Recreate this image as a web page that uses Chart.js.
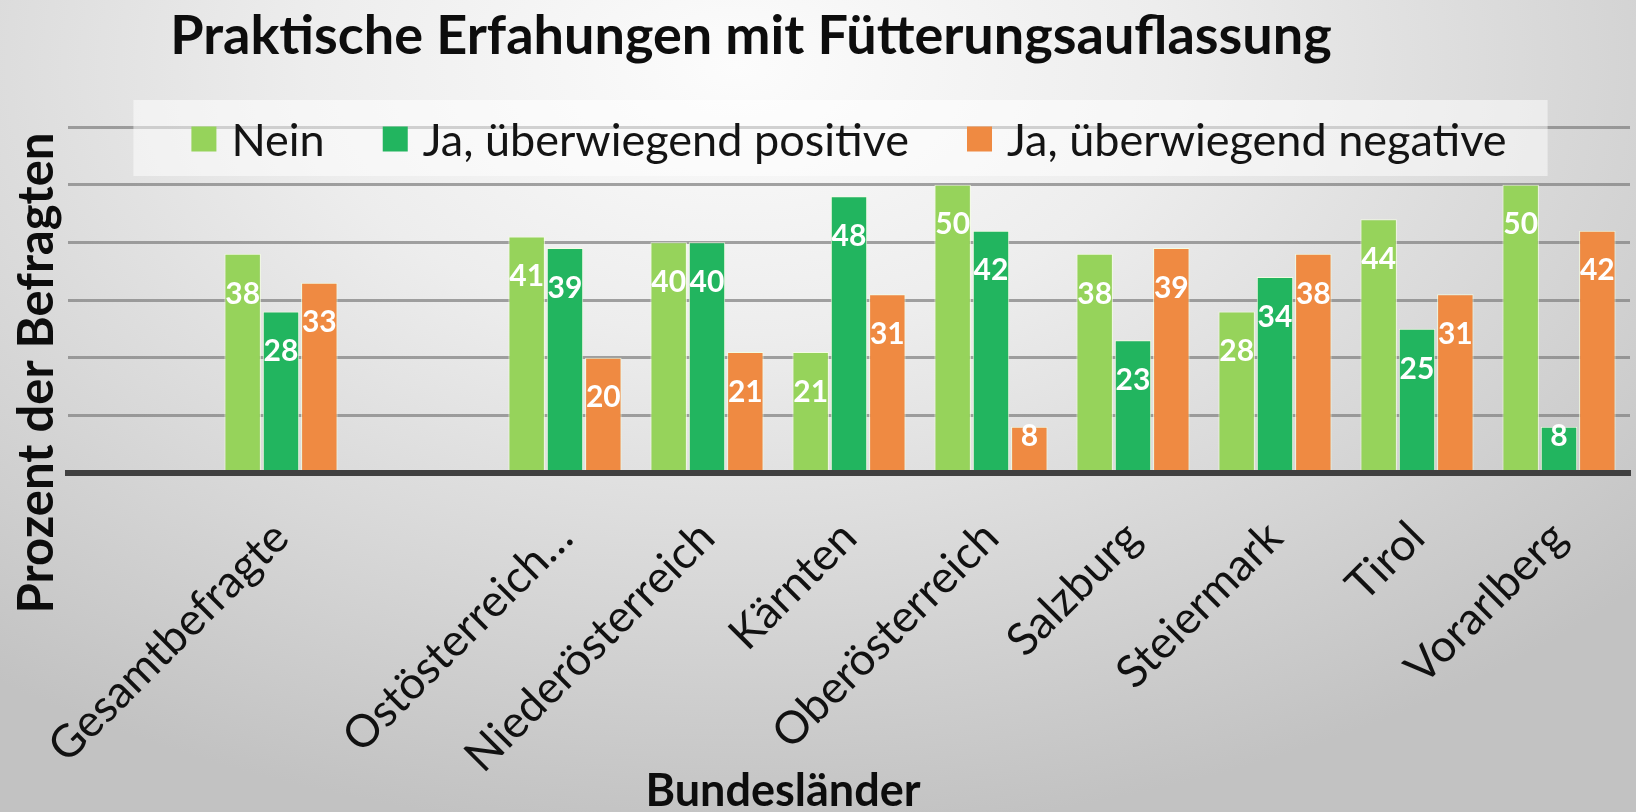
<!DOCTYPE html>
<html lang="de">
<head>
<meta charset="utf-8">
<title>Praktische Erfahungen mit Fütterungsauflassung</title>
<script src="https://cdn.jsdelivr.net/npm/chart.js@4.4.1/dist/chart.umd.min.js"></script>
<style>
html, body { margin: 0; padding: 0; }
body {
  width: 1636px;
  height: 812px;
  overflow: hidden;
  background: radial-gradient(ellipse 75% 95% at 45% 8%, #fcfcfc 0%, #ededed 35%, #d6d6d6 70%, #c2c2c2 100%);
}
#wrap { position: relative; width: 1636px; height: 812px; }
</style>
</head>
<body>
<div id="wrap"><canvas id="chart-laender"></canvas></div>
<script>
// Kategorien (leere Einträge = Lücken wie im Original)
const categories = ['', 'Gesamtbefragte', '', 'Ostösterreich…', 'Niederösterreich', 'Kärnten',
  'Oberösterreich', 'Salzburg', 'Steiermark', 'Tirol', 'Vorarlberg'];
const nein      = [null, 38, null, 41, 40, 21, 50, 38, 28, 44, 50];
const jaPositiv = [null, 28, null, 39, 40, 48, 42, 23, 34, 25, 8];
const jaNegativ = [null, 33, null, 20, 21, 31, 8, 39, 38, 31, 42];
const seriesNames = ['Nein', 'Ja, überwiegend positive', 'Ja, überwiegend negative'];
const yMax = 60;
const yStep = 10;

const chartTitle = 'Praktische Erfahungen mit Fütterungsauflassung';
const xTitle = 'Bundesländer';
const yTitle = 'Prozent der Befragten';

const FONT = 'Lato, "Open Sans", sans-serif';
const colors = ['#96d35b', '#22b55f', '#ef8a42'];

// legend drawn over the plot, on a pale box, below the bars
const legendBox = {
  id: 'legendBox',
  beforeDatasetsDraw(chart) {
    const ctx = chart.ctx;
    const area = chart.chartArea;
    const sets = chart.data.datasets;
    const sq = 25, gap = 15, between = 58;
    ctx.save();
    ctx.font = '45px ' + FONT;
    const widths = sets.map(d => sq + gap + ctx.measureText(d.label).width);
    const total = widths.reduce((a, b) => a + b, 0) + between * (sets.length - 1);
    let x = (area.left + area.right) / 2 - total / 2;
    const cy = area.top + 12;
    ctx.fillStyle = 'rgba(255,255,255,0.5)';
    ctx.fillRect(x - 58, cy - 39, total + 99, 76);
    ctx.textBaseline = 'middle';
    sets.forEach((d, i) => {
      ctx.fillStyle = d.backgroundColor;
      ctx.fillRect(x, cy - sq / 2, sq, sq);
      ctx.fillStyle = '#141414';
      ctx.fillText(d.label, x + sq + gap, cy + 2);
      x += widths[i] + between;
    });
    ctx.restore();
  }
};

// white value labels inside the bars
const barValues = {
  id: 'barValues',
  afterDatasetsDraw(chart) {
    const ctx = chart.ctx;
    ctx.save();
    ctx.font = 'bold 30px ' + FONT;
    ctx.fillStyle = '#ffffff';
    ctx.textAlign = 'center';
    ctx.textBaseline = 'middle';
    chart.data.datasets.forEach((ds, i) => {
      chart.getDatasetMeta(i).data.forEach((bar, j) => {
        const v = ds.data[j];
        if (v == null) return;
        const h = bar.base - bar.y;
        const y = h > 70 ? bar.y + 40 : bar.y + 9;
        ctx.fillText(String(v), bar.x, y);
      });
    });
    ctx.restore();
  }
};

// chart and axis titles, placed like in the original
const titles = {
  id: 'titles',
  afterDraw(chart) {
    const ctx = chart.ctx;
    ctx.save();
    ctx.fillStyle = '#0d0d0d';
    ctx.textAlign = 'center';
    ctx.textBaseline = 'alphabetic';
    ctx.font = 'bold 54px ' + FONT;
    ctx.fillText(chartTitle, 751, 54);
    ctx.font = 'bold 45px ' + FONT;
    ctx.fillText(xTitle, 783, 806);
    ctx.translate(37, 373);
    ctx.rotate(-Math.PI / 2);
    ctx.font = 'bold 49px ' + FONT;
    ctx.textBaseline = 'middle';
    ctx.fillText(yTitle, 0, 0);
    ctx.restore();
  }
};

const config = {
  type: 'bar',
  data: {
    labels: categories,
    datasets: [nein, jaPositiv, jaNegativ].map((values, i) => ({
      label: seriesNames[i],
      data: values,
      backgroundColor: colors[i],
      borderColor: 'rgba(245,255,225,0.85)',
      borderWidth: 1,
      categoryPercentage: 0.81,
      barPercentage: 0.95
    }))
  },
  options: {
    responsive: true,
    maintainAspectRatio: false,
    animation: false,
    layout: {
      padding: { top: 127, right: 6, bottom: 0, left: 0 }
    },
    plugins: {
      legend: { display: false },
      title: { display: false },
      tooltip: { enabled: false }
    },
    scales: {
      x: {
        grid: { display: false },
        border: { display: true, color: '#404040', width: 6, z: 1 },
        ticks: {
          color: '#111111',
          font: { family: FONT, size: 45 },
          minRotation: 45,
          maxRotation: 45,
          autoSkip: false,
          padding: 30
        },
        afterFit(scale) { scale.height = 812 - 473; }
      },
      y: {
        min: 0,
        max: yMax,
        ticks: { display: false, stepSize: yStep },
        grid: {
          color: (ctx) => ctx.tick.value === 0 ? 'rgba(0,0,0,0)' : 'rgba(125,125,125,0.7)',
          lineWidth: 3,
          drawTicks: false
        },
        border: { display: false },
        afterFit(scale) { scale.width = 68; }
      }
    }
  },
  plugins: [legendBox, barValues, titles]
};

document.addEventListener('DOMContentLoaded', () => {
  const ctx = document.getElementById('chart-laender');
  new Chart(ctx, config);
});
</script>
</body>
</html>
